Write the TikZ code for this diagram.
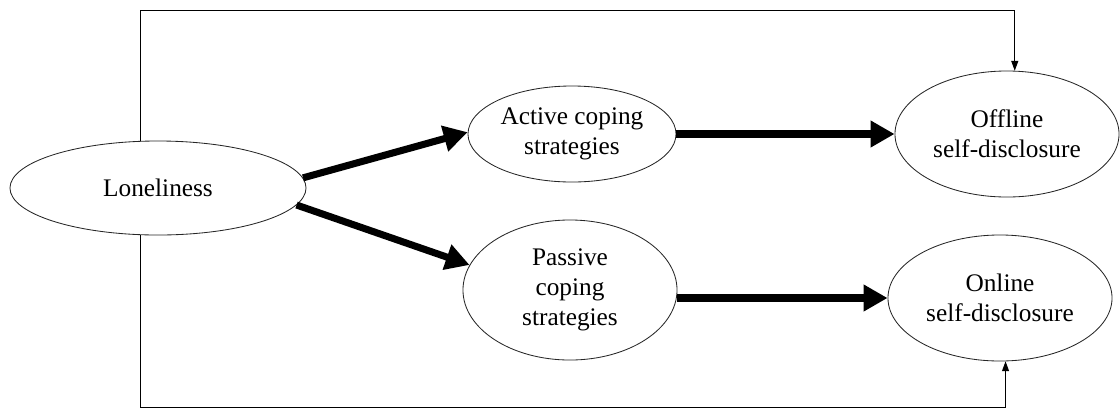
\documentclass[tikz,border=0pt]{standalone}
\usepackage{fontspec}
\setmainfont{Liberation Serif}
\usetikzlibrary{shapes.geometric,arrows.meta}

\begin{document}
\begin{tikzpicture}[x=.025cm,y=-.025cm,
    construct/.style={ellipse,draw=black!85,line width=.6pt,inner sep=0pt,align=center,
      font=\fontsize{18}{21.3}\selectfont},
    effect/.style={line width=5pt,-{Triangle[length=17pt,width=18pt]}},
    direct/.style={line width=.7pt,-{Triangle[length=7pt,width=5pt]}}]
    \useasboundingbox (0,0) rectangle (1120,410);
    \begin{scope}[shift={(0,0)}]
      \node[construct,minimum width=7.4cm,minimum height=2.35cm] (lone) at (158,188) {Loneliness};
      \node[construct,minimum width=5.2cm,minimum height=2.4cm] (active) at (572,134) {Active coping\\strategies};
      \node[construct,minimum width=5.35cm,minimum height=3.5cm] (passive) at (570,290) {Passive\\coping\\strategies};
      \node[construct,minimum width=5.6cm,minimum height=3.15cm] (offline) at (1007,134) {Offline\\self-disclosure};
      \node[construct,minimum width=5.6cm,minimum height=3.15cm] (online) at (1000,298) {Online\\self-disclosure};
      \coordinate (top) at (0,10);
      \coordinate (bottom) at (0,407);
      \draw[effect](lone.4)--(active.179);
      \draw[effect](lone.-7)--(passive.166);
      \draw[effect](active)--(offline);
      \draw[effect](online.west-|passive.east)--(online.west);
      \draw[direct](lone.110)--(lone.110|-top)--(top-|offline.83)--(offline.83);
      \draw[direct](lone.250)--(lone.250|-bottom)--(bottom-|online.275)--(online.275);
    \end{scope}
  \end{tikzpicture}
\end{document}
